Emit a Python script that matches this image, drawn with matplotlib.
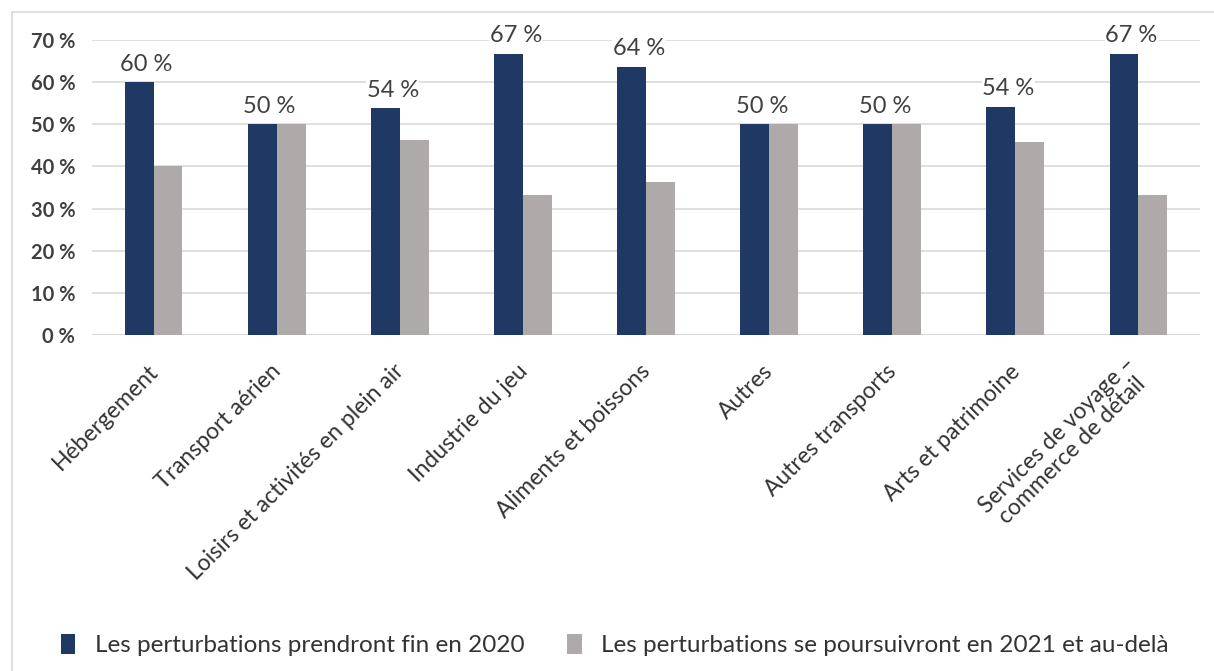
import numpy as np
import matplotlib.pyplot as plt
from matplotlib.patches import Rectangle
from matplotlib.transforms import ScaledTranslation

plt.rcParams['font.family'] = ['Lato', 'DejaVu Sans']

# Data
categories = ['Hébergement', 'Transport aérien', 'Loisirs et activités en plein air',
              'Industrie du jeu', 'Aliments et boissons', 'Autres', 'Autres transports',
              'Arts et patrimoine', 'Services de voyage –\ncommerce de détail']
fin_2020 = [60.0, 50.0, 53.8, 66.7, 63.6, 50.0, 50.0, 54.2, 66.7]
suite_2021 = [40.0, 50.0, 46.2, 33.3, 36.4, 50.0, 50.0, 45.8, 33.3]
labels_2020 = ['60 %', '50 %', '54 %', '67 %', '64 %', '50 %', '50 %', '54 %', '67 %']
legend_labels = ['Les perturbations prendront fin en 2020',
                 'Les perturbations se poursuivront en 2021 et au-delà']
yticks = [0, 10, 20, 30, 40, 50, 60, 70]

navy = '#203864'
grey = '#AEAAAA'

fig = plt.figure(figsize=(12.14, 6.71), dpi=100)
ax = fig.add_axes([92 / 1214, 1 - 335 / 671, 1108 / 1214, 295 / 671])

# light frame around the chart
fig.patches.append(Rectangle((12 / 1214, -0.1), 1.2, 1 - 12 / 671 + 0.1,
                             transform=fig.transFigure, fill=False,
                             edgecolor='#D9D9D9', linewidth=1.2))

x = np.arange(len(categories))
w = 0.235
ax.bar(x - w / 2, fin_2020, w, color=navy, label=legend_labels[0], zorder=3)
ax.bar(x + w / 2, suite_2021, w, color=grey, label=legend_labels[1], zorder=3)

for xi, v, lab in zip(x, fin_2020, labels_2020):
    ax.text(xi - w / 2 + 0.06, v + 1.8, lab, ha='center', va='bottom', fontsize=17,
            color='#404040', zorder=4,
            bbox=dict(facecolor='white', edgecolor='none', pad=0.3))

ax.set_xlim(-0.5, len(categories) - 0.5)
ax.set_ylim(0, 70)
ax.set_yticks(yticks)
ax.set_yticklabels([f'{t} %' for t in yticks], fontsize=14.5, fontweight='bold', color='#404040')
ax.yaxis.grid(True, color='#D9D9D9', linewidth=1.2, zorder=0)
ax.set_axisbelow(True)
ax.tick_params(axis='y', length=0, pad=12)
ax.tick_params(axis='x', length=0, pad=0)
for s in ax.spines.values():
    s.set_visible(False)
ax.axhline(0, color='#D9D9D9', linewidth=1.5, zorder=2)

ax.set_xticks(x)
ax.set_xticklabels(categories, rotation=45, ha='right', va='center', rotation_mode='anchor',
                   fontsize=16.5, color='#333333', multialignment='center', linespacing=1.05)
shift = ScaledTranslation(1 / 100, -33 / 100, fig.dpi_scale_trans)
for lbl in ax.get_xticklabels():
    lbl.set_transform(lbl.get_transform() + shift)

leg = fig.legend(loc='center left', bbox_to_anchor=(39 / 1214, 1 - 645 / 671), ncol=2,
                 frameon=False, fontsize=17.5, handlelength=0.6, handleheight=0.9,
                 columnspacing=1.75, handletextpad=0.8, labelcolor='#333333')

fig.savefig('out.png', dpi=100, facecolor='white')
